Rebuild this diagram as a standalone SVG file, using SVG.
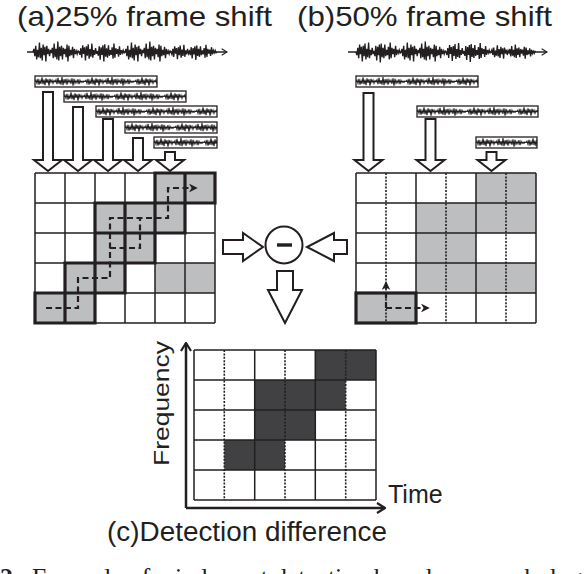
<svg xmlns="http://www.w3.org/2000/svg" width="588" height="574" viewBox="0 0 588 574">
<style>
.t{font-family:"Liberation Sans",Arial,sans-serif;fill:#231f20}
.cap{font-family:"Liberation Serif","Times New Roman",serif;fill:#231f20;font-size:25.5px}
.ln{stroke:#231f20;stroke-width:1.5;fill:none}
.g{fill:#bcbec0}
.d{fill:#414042}
.thk{fill:none;stroke:#231f20;stroke-width:3.2}
.dot{stroke:#231f20;stroke-width:1.6;stroke-dasharray:2 1.4;fill:none}
.dash{stroke:#231f20;stroke-width:2.2;stroke-dasharray:6 3.5;fill:none}
.blk{fill:#fff;stroke:#231f20;stroke-width:2;stroke-linejoin:miter}
.wv{fill:none;stroke:#231f20;stroke-width:1.35}
.wf{fill:none;stroke:#231f20;stroke-width:1.1}
.frm{stroke:#231f20;stroke-width:1.3}
.ax{stroke:#231f20;stroke-width:2.5;fill:none}
</style>
<defs>
<path id="wu" vector-effect="non-scaling-stroke" d="M0,0 L1,-3 2,4 3,-6 4,7 5,-2 6,5 7,-9 8,6 9,-4 10,8 11,-7 12,3 13,-5 14,9 15,-6 16,2 17,-3 18,4 19,-2 20,1 21,-4 22,6 23,-8 24,5 25,-3 26,7 27,-10 28,8 29,-5 30,4 31,-6 32,7 33,-4 34,2 35,-3 36,5 37,-7 38,9 39,-6 40,4 41,-2 42,3 43,-5 44,6 45,-3 46,2 47,-1 48,2 49,-1 50,0"/>
<pattern id="fw" patternUnits="userSpaceOnUse" width="50" height="11">
<rect width="50" height="11" fill="#fff"/>
<path d="M0,5.5H50" stroke="#231f20" stroke-width="0.8"/>
<use href="#wu" class="wf" transform="translate(0,5.5) scale(1,0.45)"/>
</pattern>
<marker id="ah" viewBox="0 0 10 10" refX="8" refY="5" markerWidth="4" markerHeight="4" orient="auto" markerUnits="strokeWidth">
<path d="M0,0 L10,5 L0,10 L3,5z" fill="#231f20"/>
</marker>
<marker id="ch" viewBox="0 0 10 12" refX="9" refY="6" markerWidth="10" markerHeight="12" orient="auto" markerUnits="userSpaceOnUse">
<path d="M1,1 L9,6 L1,11" fill="none" stroke="#231f20" stroke-width="2.2"/>
</marker>
<marker id="sc" viewBox="0 0 10 12" refX="9" refY="6" markerWidth="7" markerHeight="8" orient="auto" markerUnits="userSpaceOnUse">
<path d="M1,1 L9,6 L1,11" fill="none" stroke="#231f20" stroke-width="1.8"/>
</marker>
</defs>
<rect width="588" height="574" fill="#fff"/>

<g id="title-a"><text class="t" x="17" y="26" font-size="28" textLength="255" lengthAdjust="spacingAndGlyphs">(a)25% frame shift</text></g>
<g id="title-b"><text class="t" x="297" y="26" font-size="28" textLength="255" lengthAdjust="spacingAndGlyphs">(b)50% frame shift</text></g>

<g id="signal-a">
<path d="M27,52 H227" stroke="#231f20" stroke-width="1.3" marker-end="url(#sc)"/>
<use href="#wu" class="wv" transform="translate(33,52) scale(0.92,1.05)"/>
<use href="#wu" class="wv" transform="translate(79,52) scale(0.92,-0.95)"/>
<use href="#wu" class="wv" transform="translate(125,52) scale(0.92,1.05)"/>
<use href="#wu" class="wv" transform="translate(171,52) scale(0.92,-0.8)"/>
</g>
<g id="signal-b">
<path d="M348,52 H547" stroke="#231f20" stroke-width="1.3" marker-end="url(#sc)"/>
<use href="#wu" class="wv" transform="translate(356,52) scale(0.9,-1.05)"/>
<use href="#wu" class="wv" transform="translate(401,52) scale(0.9,1.05)"/>
<use href="#wu" class="wv" transform="translate(446,52) scale(0.9,-1)"/>
<use href="#wu" class="wv" transform="translate(491,52) scale(0.9,0.75)"/>
</g>

<g id="frames-a">
<g transform="translate(35,76)"><rect class="frm" width="122" height="11" fill="url(#fw)"/></g>
<g transform="translate(64,91)"><rect class="frm" width="122" height="11" fill="url(#fw)"/></g>
<g transform="translate(96,106)"><rect class="frm" width="121" height="11" fill="url(#fw)"/></g>
<g transform="translate(125,122)"><rect class="frm" width="92" height="11" fill="url(#fw)"/></g>
<g transform="translate(154,137)"><rect class="frm" width="63" height="11" fill="url(#fw)"/></g>
</g>
<g id="frames-b">
<g transform="translate(356,76)"><rect class="frm" width="122" height="11" fill="url(#fw)"/></g>
<g transform="translate(417,106)"><rect class="frm" width="121" height="11" fill="url(#fw)"/></g>
<g transform="translate(476,137)"><rect class="frm" width="61" height="11" fill="url(#fw)"/></g>
</g>

<g id="grid-a">
<rect class="g" x="155" y="173" width="60" height="30"/>
<rect class="g" x="95" y="203" width="90" height="30"/>
<rect class="g" x="95" y="233" width="60" height="30"/>
<rect class="g" x="65" y="263" width="60" height="30"/>
<rect class="g" x="155" y="263" width="60" height="30"/>
<rect class="g" x="35" y="293" width="60" height="30"/>
<path class="ln" d="M35,173V323M65,173V323M95,173V323M125,173V323M155,173V323M185,173V323M215,173V323M35,173H215M35,203H215M35,233H215M35,263H215M35,293H215M35,323H215"/>
<path class="thk" d="M155,173h60v30h-60zM185,173v30M125,203h60v30h-60zM155,203v30M95,203h60v30h-60zM125,203v30M95,233h60v30h-60zM125,233v30M65,263h60v30h-60zM95,263v30M35,293h60v30h-60zM65,293v30"/>
</g>

<g id="grid-b">
<rect class="g" x="476" y="173" width="60" height="30"/>
<rect class="g" x="416" y="203" width="120" height="30"/>
<rect class="g" x="416" y="233" width="60" height="30"/>
<rect class="g" x="416" y="263" width="120" height="30"/>
<rect class="g" x="356" y="293" width="60" height="30"/>
<path class="dot" d="M386,173V323M446,173V323M506,173V323"/>
<path class="ln" d="M356,173V323M416,173V323M476,173V323M536,173V323M356,173H536M356,203H536M356,233H536M356,263H536M356,293H536M356,323H536"/>
<rect class="thk" x="356" y="293" width="60" height="30"/>
</g>

<g id="subtract">
<circle cx="284" cy="245" r="18.5" fill="#fff" stroke="#231f20" stroke-width="2"/>
<rect x="277" y="243.3" width="15" height="3.4" fill="#231f20"/>
</g>

<g id="grid-c">
<rect class="d" x="315.3" y="350" width="60.7" height="30"/>
<rect class="d" x="254.7" y="380" width="91" height="30"/>
<rect class="d" x="254.7" y="410" width="60.7" height="30"/>
<rect class="d" x="224.3" y="440" width="60.7" height="30"/>
<path class="dot" d="M224.3,350V500M285,350V500M345.7,350V500"/>
<path class="ln" d="M194,350V500M254.7,350V500M315.3,350V500M376,350V500M194,350H376M194,380H376M194,410H376M194,440H376M194,470H376M194,500H376"/>
</g>

<g id="axes">
<path class="ax" d="M186,508V343" marker-end="url(#ch)"/>
<path class="ax" d="M186,508H385" marker-end="url(#ch)"/>
<text class="t" font-size="22" transform="translate(169,466) rotate(-90)" textLength="125" lengthAdjust="spacingAndGlyphs">Frequency</text>
<text class="t" x="388" y="503" font-size="25">Time</text>
</g>

<g id="title-c"><text class="t" x="107" y="541" font-size="27" textLength="280" lengthAdjust="spacingAndGlyphs">(c)Detection difference</text></g>

<g id="caption">
<text class="cap" x="0" y="586" font-weight="bold">2</text>
<text class="cap" x="32" y="586">Example of wind onset detection based on morpholog</text>
</g>

<g id="connectors">
<polygon class="blk" points="43,92 53,92 53,160 62,160 48,171 34,160 43,160"/>
<polygon class="blk" points="73,107 83,107 83,160 92,160 78,171 64,160 73,160"/>
<polygon class="blk" points="103,119 113,119 113,160 122,160 108,171 94,160 103,160"/>
<polygon class="blk" points="133,138 143,138 143,160 152,160 138,171 124,160 133,160"/>
<polygon class="blk" points="165,152 175,152 175,160 184,160 170,171 156,160 165,160"/>
<polygon class="blk" points="363.5,93 373.5,93 373.5,160 382.5,160 368.5,171 354.5,160 363.5,160"/>
<polygon class="blk" points="425.5,119 435.5,119 435.5,160 444.5,160 430.5,171 416.5,160 425.5,160"/>
<polygon class="blk" points="486.5,152 496.5,152 496.5,160 505.5,160 491.5,171 477.5,160 486.5,160"/>
<polygon class="blk" points="223,240 243,240 243,233 263,247 243,261 243,254 223,254"/>
<polygon class="blk" points="347,240 334,240 334,233 307,247 334,261 334,254 347,254"/>
<polygon class="blk" points="277,271 293,271 293,290 302,290 285,323 268,290 277,290"/>
<path class="dash" d="M46,308H78V278H110V218H168V188H196" marker-end="url(#ah)"/>
<path class="dash" d="M110,248H140V218"/>
<path class="dash" d="M386,308V283" marker-end="url(#ah)"/>
<path class="dash" d="M386,308H428" marker-end="url(#ah)"/>
</g>
</svg>
